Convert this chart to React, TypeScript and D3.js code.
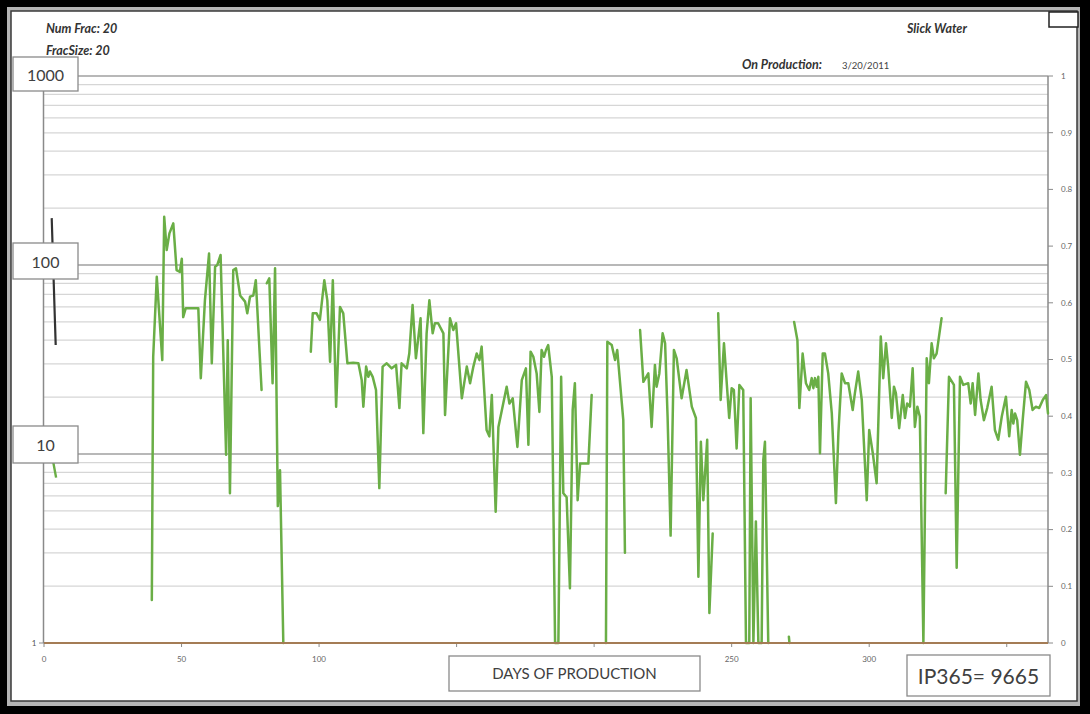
import React from "react";
import * as d3 from "d3";

// ---- data (days of production, rate) ----
const prodSeries: [number, number | null][] = [
  [39.2, 1.69], [39.7, 32.7], [41.0, 86.7], [43.0, 31.4], [43.7, 180], [44.6, 120], [45.6, 147], [47.0, 166],
  [48.2, 94], [49.4, 92], [50.1, 108], [50.6, 53], [51.5, 59], [56.1, 59], [57.0, 25.2], [58.5, 65], [60.0, 115],
  [61.0, 30.2], [62.2, 98], [63.0, 100], [64.2, 113], [66.2, 9.9], [66.8, 40], [67.6, 6.2], [68.8, 94], [69.8, 96],
  [71.3, 69], [73.1, 64], [73.9, 55.5], [74.9, 68], [76.1, 69], [77.0, 83], [79.1, 21.8],
  [80.0, null],
  [81.0, 80], [81.9, 85], [83.1, 23.7], [84.0, 96], [85.0, 5.3], [85.8, 8.2], [87.0, 1],
  [92.0, null],
  [97.0, 34.8], [97.7, 55.5], [99.1, 55.5], [100.3, 51.2], [101.9, 83], [103.0, 65], [104.0, 30.8], [105.0, 83],
  [106.2, 17.8], [107.6, 60], [108.8, 55.5], [110.3, 30.2], [112.4, 30.4], [114.3, 30.2], [115.5, 24.6], [116.1, 17.8],
  [117.1, 29], [117.9, 25.6], [118.5, 27.3], [119.5, 25.6], [120.7, 21.8], [121.9, 6.6], [123.1, 29], [124.6, 30.2],
  [126.4, 28.4], [128.0, 29.6], [129.2, 17.5], [130.0, 30.2], [131.9, 28.4], [132.8, 34], [134.0, 61.4], [135.2, 32.1],
  [136.9, 52.2], [137.9, 12.9], [139.1, 43.5], [140.1, 65], [141.3, 43.5], [142.1, 49.2], [143.3, 49.2], [145.2, 43.5],
  [145.8, 16.1], [147.6, 52.2], [148.8, 45.3], [149.8, 49.2], [151.9, 19.7], [153.7, 29], [154.9, 23.7], [156.1, 29],
  [157.3, 34], [158.3, 31.4], [159.1, 37], [160.9, 13.4], [161.9, 12.4], [162.8, 20.5], [164.2, 4.95], [165.2, 13.9],
  [168.2, 22.7], [169.2, 18.5], [170.4, 19.7], [172.1, 10.9], [173.7, 24.6], [175.2, 28.4], [176.1, 11.2], [176.9, 34.8],
  [177.9, 32.7], [179.1, 26.7], [180.1, 16.7], [180.9, 35.5], [181.8, 32.7], [182.5, 35.5], [183.3, 37.7], [184.6, 25.6],
  [185.8, 1], [187.0, 1], [188.0, 25.6], [188.8, 6.2], [190.0, 5.9], [191.2, 1.95], [192.2, 17.1], [193.0, 23.7],
  [194.0, 5.7], [194.9, 8.9], [197.9, 8.9], [199.1, 20.5],
  [201.0, null],
  [204.3, 1], [204.8, 39.3], [206.4, 37.7], [207.6, 31.4], [208.4, 35.5], [210.6, 15.1], [211.2, 3.0],
  [214.0, null],
  [216.7, 45.3], [217.9, 24.1], [219.7, 26.7], [220.9, 13.9], [222.1, 29.6], [222.7, 22.7], [223.7, 26.7], [224.9, 43.5],
  [225.8, 38.5], [226.7, 15.8], [227.8, 3.7], [229.0, 35.5], [230.0, 32.1], [231.8, 19.7], [233.6, 27.8], [235.5, 17.8],
  [237.0, 15.5], [237.9, 2.24], [238.8, 11.6], [239.7, 5.7], [241.1, 11.9], [241.9, 1.44], [243.1, 3.8],
  [244.0, null],
  [245.1, 55.5], [246.0, 19.3], [247.2, 38.5], [249.1, 15.5], [250.0, 22.3], [250.8, 21.8], [251.8, 10.7], [252.8, 23.2],
  [254.2, 21.8], [255.2, 1], [256.4, 1], [256.9, 19.7], [257.9, 1], [258.8, 4.4], [259.7, 1], [260.9, 1], [261.5, 9.3],
  [262.1, 11.6], [263.3, 1],
  [267.0, null],
  [270.8, 1.08], [271.0, 1],
  [272.0, null],
  [272.7, 50], [273.9, 40], [274.6, 17.5], [275.8, 34], [277.0, 23.7], [278.2, 21.8], [279.1, 25.2], [279.7, 22.3],
  [280.3, 25.2], [280.9, 22.7], [281.5, 25.6], [282.1, 10.1], [283.1, 34], [283.9, 34], [285.1, 26.7], [286.4, 16.4],
  [287.9, 5.5], [288.8, 12.9], [290.0, 26.7], [291.2, 23.7], [292.4, 23.7], [294.0, 17.1], [294.8, 21], [296.0, 27.3],
  [297.3, 19.3], [299.1, 5.7], [300.0, 13.4], [301.3, 10.1], [302.7, 7.0], [304.2, 41.8], [305.1, 25.2], [306.1, 38.5],
  [306.9, 29], [308.2, 15.5], [309.0, 22.7], [309.7, 21], [310.9, 13.7], [312.2, 20.5], [313.0, 15.5], [313.8, 18.5],
  [314.8, 17.8], [315.8, 28.4], [316.6, 13.9], [317.5, 17.8], [318.4, 15.8], [319.7, 1], [320.9, 32.1], [321.7, 23.7],
  [322.7, 38.5], [323.5, 32.1], [324.5, 34], [326.3, 52.2],
  [327.0, null],
  [327.8, 6.2], [329.0, 25.6], [330.8, 23.2], [331.8, 2.5], [333.0, 25.6], [334.2, 23.2], [336.0, 23.7], [336.9, 18.5],
  [337.6, 23.7], [338.5, 16.1], [339.7, 26.7], [340.5, 19.3], [341.7, 15.1], [342.9, 17.5], [344.5, 22.7], [345.7, 13.4],
  [346.9, 11.9], [348.2, 15.8], [349.7, 20.1], [350.9, 12.4], [351.8, 17.1], [352.4, 14.5], [353.0, 16.4], [353.8, 15.1],
  [354.8, 9.9], [355.8, 15.1], [357.0, 24.1], [358.2, 21.8], [359.4, 17.1], [360.6, 17.8], [361.8, 17.5], [363.1, 19.3],
  [364.3, 20.5], [365.0, 16.4],
];
const gasSeries: [number, number][] = [[2.8, 177], [4.25, 37.7]];
const earlySeries: [number, number][] = [[3.2, 10.5], [3.4, 9.0], [4.4, 7.5]];

const xTicks = [0, 50, 100, 150, 200, 250, 300, 350];
const rightTicks = [0, 0.1, 0.2, 0.3, 0.4, 0.5, 0.6, 0.7, 0.8, 0.9, 1];
const majorLevels = [10, 100, 1000];
const minorLevels = [2, 3, 4, 5, 6, 7, 8, 9, 20, 30, 40, 50, 60, 70, 80, 90, 200, 300, 400, 500, 600, 700, 800, 900];
const boxLabels = ["1000", "100", "10"];

export default function App() {
  const W = 1090, H = 714;
  const x = d3.scaleLinear().domain([0, 365]).range([44, 1048]);
  const y = d3.scaleLog().domain([1, 1000]).range([643, 76]);
  const yR = d3.scaleLinear().domain([0, 1]).range([643, 76]);

  const line = d3
    .line<[number, number | null]>()
    .defined((d) => d[1] != null)
    .x((d) => x(d[0]))
    .y((d) => y(d[1] as number));

  const boxes: Record<string, [number, number]> = { "1000": [57, 34], "100": [243, 36], "10": [426, 37] };
  const font = "Lato, 'Open Sans', sans-serif";

  return (
    <svg width={W} height={H} style={{ position: "fixed", left: 0, top: 0, display: "block" }}>
      <rect x={0} y={0} width={W} height={H} fill="#000" />
      <rect x={7} y={7} width={1073} height={699} fill="#b5b5b5" />
      <rect x={11} y={11} width={1066} height={690} fill="#fff" stroke="#3a3a3a" strokeWidth={1.5} />

      {/* gridlines */}
      {minorLevels.map((v) => (
        <line key={"m" + v} x1={44} x2={1048} y1={y(v)} y2={y(v)} stroke="#d6d6d6" strokeWidth={1.2} />
      ))}
      {majorLevels.map((v) => (
        <line key={"M" + v} x1={44} x2={1048} y1={y(v)} y2={y(v)} stroke="#a0a0a0" strokeWidth={1.3} />
      ))}

      {/* axes */}
      <line x1={43.5} x2={43.5} y1={76} y2={643} stroke="#8a8a8a" strokeWidth={1.5} />
      <line x1={1048} x2={1048} y1={76} y2={643} stroke="#8a8a8a" strokeWidth={1.5} />
      {rightTicks.map((t) => (
        <g key={"r" + t}>
          <line x1={1048} x2={1053} y1={yR(t)} y2={yR(t)} stroke="#8a8a8a" />
          <text x={1061} y={yR(t)} dy="0.35em" fontSize={8} fill="#666" fontFamily={font}>
            {String(t)}
          </text>
        </g>
      ))}
      {xTicks.map((t) => (
        <g key={"x" + t}>
          <line x1={x(t)} x2={x(t)} y1={643} y2={647} stroke="#8a8a8a" />
          <text x={x(t)} y={662} textAnchor="middle" fontSize={8} fill="#666" fontFamily={font}>
            {t}
          </text>
        </g>
      ))}
      <line x1={39} x2={44} y1={y(1)} y2={y(1)} stroke="#8a8a8a" />
      <text x={34} y={y(1)} dy="0.35em" textAnchor="middle" fontSize={8} fill="#555" fontFamily={font}>
        1
      </text>

      {/* series */}
      <path d={line(gasSeries as any) || ""} fill="none" stroke="#333" strokeWidth={2.2} />
      <path d={line(earlySeries as any) || ""} fill="none" stroke="#6aae46" strokeWidth={2.4} />
      <path
        d={line(prodSeries) || ""}
        fill="none"
        stroke="#6aae46"
        strokeWidth={2.5}
        strokeLinejoin="round"
        strokeLinecap="round"
      />
      <line x1={44} x2={1048} y1={643} y2={643} stroke="#a47c55" strokeWidth={2} />

      {/* header texts */}
      <text x={46} y={33} fontSize={12.5} fontWeight="bold" fontStyle="italic" fill="#333" fontFamily={font}>
        Num Frac: 20
      </text>
      <text x={46} y={55} fontSize={12.5} fontWeight="bold" fontStyle="italic" fill="#333" fontFamily={font}>
        FracSize: 20
      </text>
      <text x={907} y={33} fontSize={12.5} fontWeight="bold" fontStyle="italic" fill="#333" fontFamily={font}>
        Slick Water
      </text>
      <text x={742} y={69} fontSize={12.5} fontWeight="bold" fontStyle="italic" fill="#333" fontFamily={font}>
        On Production:
      </text>
      <text x={842} y={69} fontSize={9.5} fill="#444" fontFamily={font}>
        3/20/2011
      </text>
      <rect x={1049} y={12} width={29} height={15} fill="#fff" stroke="#222" strokeWidth={1.5} />

      {/* left value boxes */}
      {boxLabels.map((b) => (
        <g key={"b" + b}>
          <rect x={13} y={boxes[b][0]} width={65} height={boxes[b][1]} fill="#fff" stroke="#8a8a8a" strokeWidth={1.3} />
          <text
            x={45.5}
            y={boxes[b][0] + boxes[b][1] / 2 + 1}
            dy="0.36em"
            textAnchor="middle"
            fontSize={16}
            fill="#404040"
            fontFamily={font}
          >
            {b}
          </text>
        </g>
      ))}

      {/* bottom boxes */}
      <rect x={449} y={656} width={251} height={35} fill="#fff" stroke="#8a8a8a" strokeWidth={1.3} />
      <text x={574.5} y={674} dy="0.36em" textAnchor="middle" fontSize={15} fill="#404040" fontFamily={font}>
        DAYS OF PRODUCTION
      </text>
      <rect x={907} y={655} width={143} height={41} fill="#fff" stroke="#8a8a8a" strokeWidth={1.3} />
      <text x={978.5} y={676} dy="0.36em" textAnchor="middle" fontSize={21} fill="#404040" fontFamily={font}>
        IP365= 9665
      </text>
    </svg>
  );
}
